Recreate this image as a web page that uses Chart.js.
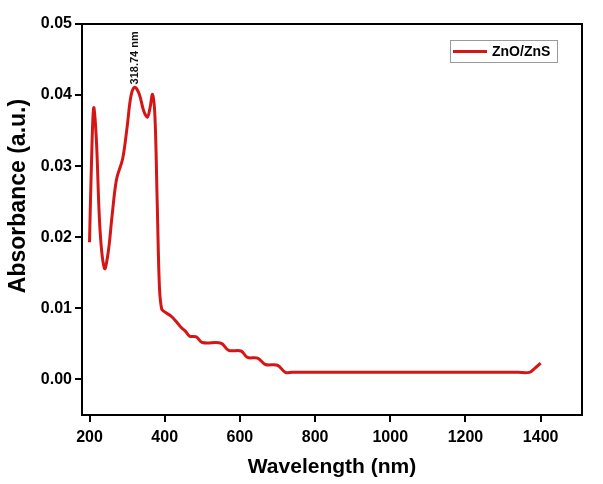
<!DOCTYPE html>
<html><head><meta charset="utf-8">
<script src="https://cdn.jsdelivr.net/npm/chart.js@4.4.1/dist/chart.umd.min.js"></script>
<style>html,body{margin:0;padding:0;background:#fff}#wrap{width:603px;height:484px}</style>
</head><body><div id="wrap"><canvas id="c" width="603" height="484"></canvas></div>
<script>
const wavelength = [200, 205, 211, 218, 228, 240, 250, 260, 272, 288, 300, 310, 320, 332, 344, 354, 361, 367.5, 374, 380, 386, 392, 400, 417, 430, 444, 455, 466, 484, 500, 550, 570, 603, 620, 647, 668, 700, 721, 740, 800, 1000, 1200, 1340, 1370, 1385, 1400];
const absorbance = [0.0193, 0.0300, 0.0382, 0.0340, 0.0210, 0.0156, 0.0180, 0.0230, 0.0282, 0.0310, 0.0355, 0.0398, 0.0411, 0.0402, 0.0378, 0.0369, 0.0382, 0.0401, 0.0370, 0.0250, 0.0130, 0.0099, 0.0095, 0.0089, 0.0082, 0.0073, 0.0068, 0.0061, 0.0060, 0.0052, 0.0051, 0.0041, 0.0040, 0.0031, 0.0030, 0.0021, 0.0020, 0.0010, 0.0010, 0.0010, 0.0010, 0.0010, 0.0010, 0.0010, 0.0016, 0.0023];
const xTicks = [200, 400, 600, 800, 1000, 1200, 1400];
const yTicks = [0.00, 0.01, 0.02, 0.03, 0.04, 0.05];
const seriesName = 'ZnO/ZnS';
const peakLabel = '318.74 nm';
const peakX = 318.74;
const yTitle = 'Absorbance (a.u.)';

const red = 'rgb(212,22,22)';
const FONT = '"Liberation Sans", Arial, sans-serif';

const framePlugin = {
  id: 'frame',
  afterDraw(chart) {
    const {ctx, chartArea: a, scales} = chart;
    ctx.save();
    ctx.strokeStyle = '#000';
    ctx.lineWidth = 2;
    ctx.strokeRect(a.left, a.top, a.right - a.left, a.bottom - a.top);
    const px = scales.x.getPixelForValue(peakX);
    const py = scales.y.getPixelForValue(0.0415);
    ctx.translate(px + 1, py);
    ctx.rotate(-Math.PI / 2);
    ctx.fillStyle = '#111';
    ctx.font = 'bold 11px ' + FONT;
    ctx.textAlign = 'left';
    ctx.textBaseline = 'middle';
    ctx.fillText(peakLabel, 0, 0);
    ctx.restore();
    // y title
    ctx.save();
    ctx.translate(19, 196);
    ctx.rotate(-Math.PI / 2);
    ctx.fillStyle = '#000';
    ctx.font = 'bold 23px ' + FONT;
    ctx.textAlign = 'center';
    ctx.textBaseline = 'middle';
    ctx.fillText(yTitle, 0, 0);
    ctx.restore();
    // legend
    ctx.save();
    const lx = 450, ly = 40, lw = 107, lh = 22;
    ctx.strokeStyle = '#999';
    ctx.lineWidth = 1;
    ctx.strokeRect(lx + 0.5, ly + 0.5, lw, lh);
    ctx.strokeStyle = red;
    ctx.lineWidth = 3;
    ctx.beginPath();
    ctx.moveTo(lx + 3, ly + 11.5);
    ctx.lineTo(lx + 37, ly + 11.5);
    ctx.stroke();
    ctx.fillStyle = '#000';
    ctx.font = 'bold 14px ' + FONT;
    ctx.textBaseline = 'middle';
    ctx.fillText(seriesName, lx + 42, ly + 12);
    ctx.restore();
  }
};

new Chart(document.getElementById('c'), {
  type: 'line',
  data: {
    datasets: [{
      label: seriesName,
      data: wavelength.map((w, i) => ({x: w, y: absorbance[i]})),
      borderColor: red,
      borderWidth: 3,
      pointRadius: 0,
      fill: false,
      tension: 0.35
    }]
  },
  options: {
    responsive: false,
    animation: false,
    layout: {padding: {left: 0, right: 21, top: 24, bottom: 0}},
    plugins: {legend: {display: false}, tooltip: {enabled: false}},
    scales: {
      x: {
        type: 'linear', min: 180, max: 1510,
        afterBuildTicks(s) { s.ticks = xTicks.map(v => ({value: v})); },
        afterFit(s) { s.height = 69; },
        grid: {drawOnChartArea: false, tickLength: 7, color: '#000', lineWidth: 2},
        border: {display: false},
        ticks: {color: '#000', font: {family: FONT, size: 16, weight: 'bold'}, padding: 6, maxRotation: 0, callback: v => String(v)},
        title: {display: true, text: 'Wavelength (nm)', color: '#000', font: {family: FONT, size: 21, weight: 'bold'}, padding: {top: 4}}
      },
      y: {
        type: 'linear', min: -0.005, max: 0.05,
        afterBuildTicks(s) { s.ticks = yTicks.map(v => ({value: v})); },
        afterFit(s) { s.width = 82; },
        grid: {drawOnChartArea: false, tickLength: 7, color: '#000', lineWidth: 2},
        border: {display: false},
        ticks: {color: '#000', font: {family: FONT, size: 16, weight: 'bold'}, padding: 3, callback: v => v.toFixed(2)},
        title: {display: false}
      }
    }
  },
  plugins: [framePlugin]
});
</script></body></html>
